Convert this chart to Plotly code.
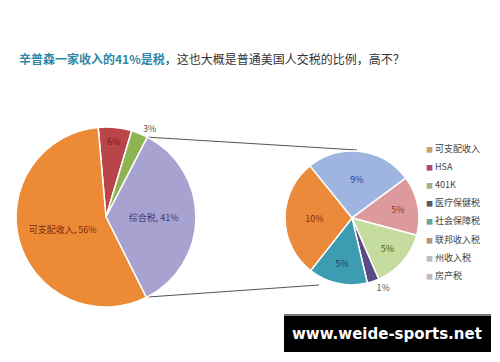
import plotly.graph_objects as go

# ---- data ----
main_labels = ["HSA", "401K", "综合税", "可支配收入"]
main_values = [6, 3, 35, 56]
main_text = ["6%", "3%", "综合税, 41%", "可支配收入, 56%"]

sub_labels = ["州收入税", "房产税", "其他", "医疗保健税", "社会保障税", "联邦收入税"]
sub_values = [9, 5, 5, 1, 5, 10]
sub_text = ["9%", "5%", "5%", "1%", "5%", "10%"]

legend_labels = ["可支配收入", "HSA", "401K", "医疗保健税", "社会保障税", "联邦收入税", "州收入税", "房产税"]
legend_colors = ["#c9a078", "#a0506e", "#a7b08a", "#5a5a66", "#5fa5a0", "#b8957a", "#b8bcc8", "#c2b8cc"]

title_blue = "辛普森一家收入的41%是税"
title_rest = "，这也大概是普通美国人交税的比例，高不？"

FONT = "Noto Sans CJK SC"

fig = go.Figure()

fig.add_trace(go.Pie(
    labels=main_labels, values=main_values, text=main_text,
    textinfo="text", sort=False, direction="clockwise", rotation=-5,
    textposition=["inside", "outside", "inside", "inside"],
    insidetextorientation="horizontal",
    marker=dict(colors=["#b9444a", "#8db352", "#a7a2cf", "#ec8a36"],
                line=dict(color="white", width=1.5)),
    textfont=dict(family=FONT, size=9, color=["#7a1f22", "#555555", "#3a3a7a", "#7a2a10"]),
    outsidetextfont=dict(family=FONT, size=9, color="#555555"),
    domain=dict(x=[0.032, 0.392], y=[0.152, 0.649]),
    showlegend=False, hoverinfo="skip",
))

fig.add_trace(go.Pie(
    labels=sub_labels, values=sub_values, text=sub_text,
    textinfo="text", sort=False, direction="clockwise", rotation=-39,
    textposition=["inside", "inside", "inside", "outside", "inside", "inside"],
    insidetextorientation="horizontal",
    marker=dict(colors=["#9db5e0", "#dc9a9c", "#c5dc9e", "#5b4a86", "#3e9cb2", "#ea8a3a"],
                line=dict(color="white", width=1.5)),
    textfont=dict(family=FONT, size=9, color=["#2a3a8a", "#8a2a2a", "#3a5a1a", "#555555", "#1a3a6a", "#8a2a10"]),
    outsidetextfont=dict(family=FONT, size=9, color="#555555"),
    domain=dict(x=[0.57, 0.838], y=[0.213, 0.583]),
    showlegend=False, hoverinfo="skip",
))

W, H = 500, 362
def px(x, y):
    return x / W, 1 - y / H

shapes = []
for (x0, y0, x1, y1) in [(145, 137, 357, 150), (148, 297, 319, 285)]:
    a = px(x0, y0); b = px(x1, y1)
    shapes.append(dict(type="line", xref="paper", yref="paper", x0=a[0], y0=a[1], x1=b[0], y1=b[1],
                       line=dict(color="#555555", width=1.2), layer="below"))
# watermark box
a = px(284, 315); b = px(491, 352)
shapes.append(dict(type="rect", xref="paper", yref="paper", x0=a[0], y0=a[1], x1=b[0], y1=b[1],
                   fillcolor="black", line=dict(width=0)))
a = px(284, 314); b = px(491, 316)
shapes.append(dict(type="rect", xref="paper", yref="paper", x0=a[0], y0=a[1], x1=b[0], y1=b[1],
                   fillcolor="#777777", line=dict(width=0)))

annotations = []
tx, ty = px(17, 58)
annotations.append(dict(
    x=tx, y=ty, xref="paper", yref="paper", xanchor="left", yanchor="middle", showarrow=False,
    text=f"<b><span style='color:#2f86a8'>{title_blue}</span></b><span style='color:#333333'>{title_rest}</span>",
    font=dict(family=FONT, size=12),
))
for i, (lab, col) in enumerate(zip(legend_labels, legend_colors)):
    lx, ly = px(424, 148 + i * 18.2)
    annotations.append(dict(
        x=lx, y=ly, xref="paper", yref="paper", xanchor="left", yanchor="middle", showarrow=False,
        text=f"<span style='color:{col};font-size:7px'>■</span> {lab}",
        font=dict(family=FONT, size=9, color="#444444"),
    ))
wx, wy = px(387, 334)
annotations.append(dict(
    x=wx, y=wy, xref="paper", yref="paper", xanchor="center", yanchor="middle", showarrow=False,
    text="<b>www.weide-sports.net</b>",
    font=dict(family="DejaVu Sans", size=15, color="white"),
))

fig.update_layout(
    width=W, height=H, margin=dict(l=0, r=0, t=0, b=0),
    paper_bgcolor="white", plot_bgcolor="white",
    shapes=shapes, annotations=annotations,
)

fig.write_html("out.html", config={"displayModeBar": False},
               post_script="document.body.style.margin='0px';")
